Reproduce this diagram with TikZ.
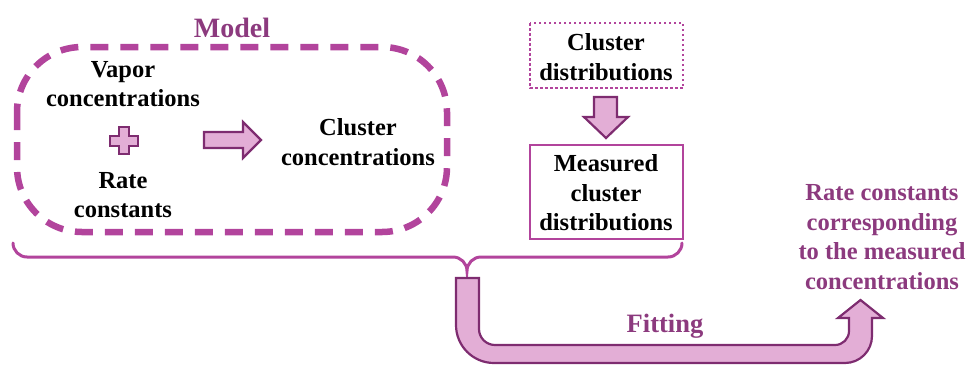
\documentclass[tikz,border=0pt]{standalone}
\usepackage{fontspec}
\setmainfont{Liberation Serif}
\definecolor{mag}{HTML}{B2449C}
\definecolor{darkp}{HTML}{7E2C70}
\definecolor{pinkf}{HTML}{E3AED6}
\definecolor{txtp}{HTML}{8C3A7E}
\begin{document}
\begin{tikzpicture}[x=1pt,y=1pt]
\tikzset{
  lbl/.style={font=\fontsize{24.5}{29.5}\selectfont\bfseries, align=center, inner sep=0pt},
  plbl/.style={lbl, text=txtp},
  fatarrow/.style={fill=pinkf, draw=darkp, line width=2.2pt, line join=miter},
  modelbox/.style={draw=mag, line width=6.5pt, dash pattern=on 18pt off 12pt, rounded corners=65pt},
  dotbox/.style={draw=mag, line width=2.5pt, dash pattern=on 2.5pt off 2.5pt},
  solidbox/.style={draw=mag, line width=2.5pt},
  bracestyle/.style={draw=mag, line width=3pt}
}
\useasboundingbox (0,0) rectangle (967,-365);
% Model box
\draw[modelbox] (17,-47) rectangle (447,-232);
\node[plbl, font=\fontsize{28}{32}\selectfont\bfseries] (model) at (232,-28) {Model};
\node[lbl] (vapor) at (123,-84) {Vapor\\concentrations};
\node[lbl] (rate) at (123,-195) {Rate\\constants};
\node[lbl] (clconc) at (358,-142) {Cluster\\concentrations};
% plus sign
\draw[fatarrow, line width=2pt] (118.5,-127) -- (128.5,-127) -- (128.5,-135.5) -- (137.5,-135.5) -- (137.5,-145.5) -- (128.5,-145.5) -- (128.5,-154) -- (118.5,-154) -- (118.5,-145.5) -- (109.5,-145.5) -- (109.5,-135.5) -- (118.5,-135.5) -- cycle;
% right arrow
\draw[fatarrow] (204,-132) -- (243,-132) -- (243,-122) -- (261,-140) -- (243,-158) -- (243,-148) -- (204,-148) -- cycle;
% Cluster distributions (dotted)
\draw[dotbox] (530,-23) rectangle (683,-88);
\node[lbl] (cldist) at (606,-57) {Cluster\\distributions};
% down arrow
\draw[fatarrow] (594,-97) -- (617,-97) -- (617,-117) -- (628,-117) -- (606,-138) -- (584,-117) -- (594,-117) -- cycle;
% Measured box
\draw[solidbox] (530,-145) rectangle (683,-239);
\node[lbl] (meas) at (606,-193) {Measured\\cluster\\distributions};
% brace
\draw[bracestyle, line cap=round] (13,-243) arc[start angle=180,end angle=270,radius=14] -- (453,-257)
  arc[start angle=90,end angle=0,radius=14] arc[start angle=180,end angle=90,radius=14]
  -- (668,-257) arc[start angle=270,end angle=360,radius=14];
% Fitting U arrow
\draw[fatarrow] (456,-278) -- (456,-325) arc[start angle=180,end angle=270,radius=38]
  -- (845,-363) arc[start angle=270,end angle=360,radius=27]
  -- (872,-318) -- (883,-318) -- (860.5,-300) -- (838,-318) -- (849,-318) -- (849,-331)
  arc[start angle=0,end angle=-90,radius=14]
  -- (495,-345) arc[start angle=270,end angle=180,radius=16]
  -- (479,-278) -- cycle;
\node[plbl, font=\fontsize{26.5}{30}\selectfont\bfseries] (fit) at (665,-326) {Fitting};
\node[plbl] (result) at (882,-237) {Rate constants\\corresponding\\to the measured\\concentrations};
\end{tikzpicture}
\end{document}
